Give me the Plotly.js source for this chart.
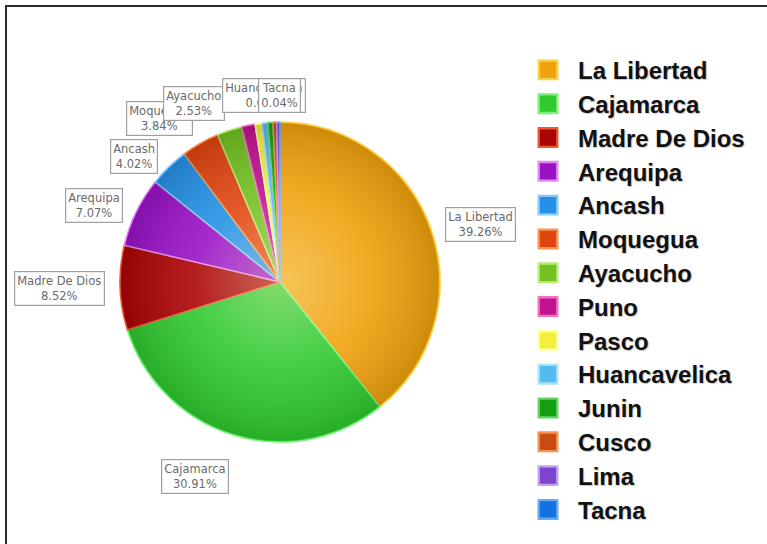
<!DOCTYPE html>
<html>
<head>
<meta charset="utf-8">
<script src="https://cdn.plot.ly/plotly-3.0.1.min.js"></script>
<style>
  html, body { margin: 0; padding: 0; background: #fff; }
  #frame { position: absolute; left: 5px; top: 5px; width: 762px; height: 539px;
           border-top: 2px solid #2a2a2a; border-left: 2px solid #2a2a2a; box-sizing: border-box; }
  #chart { position: absolute; left: 0; top: 0; width: 767px; height: 544px; }
  #chart .legendtext { text-shadow: 1px 1px 1px rgba(0,0,0,0.22); }
  #chart .legendpie { transform: translate(20px, 0px) scale(1.55); }
</style>
</head>
<body>
<div id="frame"></div>
<div id="chart"></div>
<script>
// ---- data ----
const regions = ['La Libertad', 'Cajamarca', 'Madre De Dios', 'Arequipa', 'Ancash', 'Moquegua',
                 'Ayacucho', 'Puno', 'Pasco', 'Huancavelica', 'Junin', 'Cusco', 'Lima', 'Tacna'];
const shares = [39.26, 30.91, 8.52, 7.07, 4.02, 3.84, 2.53, 1.35, 0.70, 0.60, 0.50, 0.36, 0.30, 0.04];
const labelled = ['La Libertad', 'Cajamarca', 'Madre De Dios', 'Arequipa', 'Ancash', 'Moquegua',
                  'Ayacucho', 'Huancavelica', 'Tacna'];

// ---- styles ----
const fillColors = ['#F0A20C', '#2FC92F', '#AC0404', '#9A12C6', '#2591E6', '#E0450F',
                    '#72C021', '#C0138C', '#F2F03A', '#55BAF0', '#12A012', '#C84C12', '#7E44D0', '#1272E0'];
const edgeColors = ['#F9D24A', '#7AF27A', '#E85A34', '#E487F2', '#86CBF8', '#F8964F',
                    '#B6EA74', '#F273C4', '#FFFFB0', '#A8DFF9', '#66D466', '#F29452', '#C2A4F2', '#66AAF2'];

const W = 767, H = 544;
const cx = 280, cy = 282, R = 160;

const pieTrace = {
  type: 'pie',
  labels: regions.map(n => '<span style="font-size:24px">' + n + '</span>'),
  values: shares,
  sort: false,
  direction: 'clockwise',
  rotation: 0,
  textinfo: 'none',
  hoverinfo: 'label+percent',
  marker: { colors: fillColors, line: { color: edgeColors, width: 1.5 } },
  domain: { x: [(cx - R) / W, (cx + R) / W], y: [(H - cy - R) / H, (H - cy + R) / H] }
};

// label boxes, anchored just outside each slice's mid-angle
const total = shares.reduce((a, b) => a + b, 0);
let cum = 0;
const annotations = [];
shares.forEach((v, i) => {
  const mid = (cum + v / 2) / total * 2 * Math.PI;
  cum += v;
  if (!labelled.includes(regions[i])) return;
  const dx = Math.sin(mid), dy = -Math.cos(mid);
  const rl = R + 15;
  let px = cx + dx * rl, py = cy + dy * rl;
  let xa = dx < -0.15 ? 'right' : (dx > 0.15 ? 'left' : 'center');
  let ya = 'middle';
  if (dy > 0.7) { ya = 'top'; py += 10; }
  else if (dy < -0.8) { py -= 12; }
  annotations.push({
    xref: 'paper', yref: 'paper',
    x: px / W, y: 1 - py / H,
    xanchor: xa, yanchor: ya,
    showarrow: false,
    text: regions[i] + '<br>' + v.toFixed(2) + '%',
    align: 'center',
    bgcolor: '#ffffff',
    bordercolor: '#a0a0a0',
    borderwidth: 1.2,
    borderpad: 2,
    font: { family: 'DejaVu Sans, sans-serif', size: 11.5, color: '#6a6a6a' }
  });
});

// soft radial shading over the pie
const shadeSvg = '<svg xmlns="http://www.w3.org/2000/svg" viewBox="0 0 100 100">' +
  '<defs><radialGradient id="g" cx="50%" cy="50%" r="50%">' +
  '<stop offset="0%" stop-color="#fff8c0" stop-opacity="0.40"/>' +
  '<stop offset="55%" stop-color="#ffffff" stop-opacity="0.10"/>' +
  '<stop offset="100%" stop-color="#000000" stop-opacity="0.14"/>' +
  '</radialGradient></defs><circle cx="50" cy="50" r="49.6" fill="url(#g)"/></svg>';

const layout = {
  width: W, height: H,
  margin: { l: 0, r: 0, t: 0, b: 0 },
  paper_bgcolor: 'rgba(0,0,0,0)',
  plot_bgcolor: 'rgba(0,0,0,0)',
  showlegend: true,
  legend: {
    x: 528 / W, y: 1 - 48 / H, xanchor: 'left', yanchor: 'top',
    itemwidth: 40,
    font: { family: 'Liberation Sans, Arial, sans-serif', size: 23.7, color: '#111', weight: 'bold' },
    bgcolor: 'rgba(0,0,0,0)'
  },
  images: [{
    source: 'data:image/svg+xml;charset=utf-8,' + encodeURIComponent(shadeSvg),
    xref: 'paper', yref: 'paper',
    x: (cx - R) / W, y: 1 - (cy - R) / H,
    sizex: 2 * R / W, sizey: 2 * R / H,
    xanchor: 'left', yanchor: 'top',
    sizing: 'stretch', layer: 'above'
  }],
  annotations: annotations
};

Plotly.newPlot('chart', [pieTrace], layout, { displayModeBar: false, staticPlot: true });
</script>
</body>
</html>
